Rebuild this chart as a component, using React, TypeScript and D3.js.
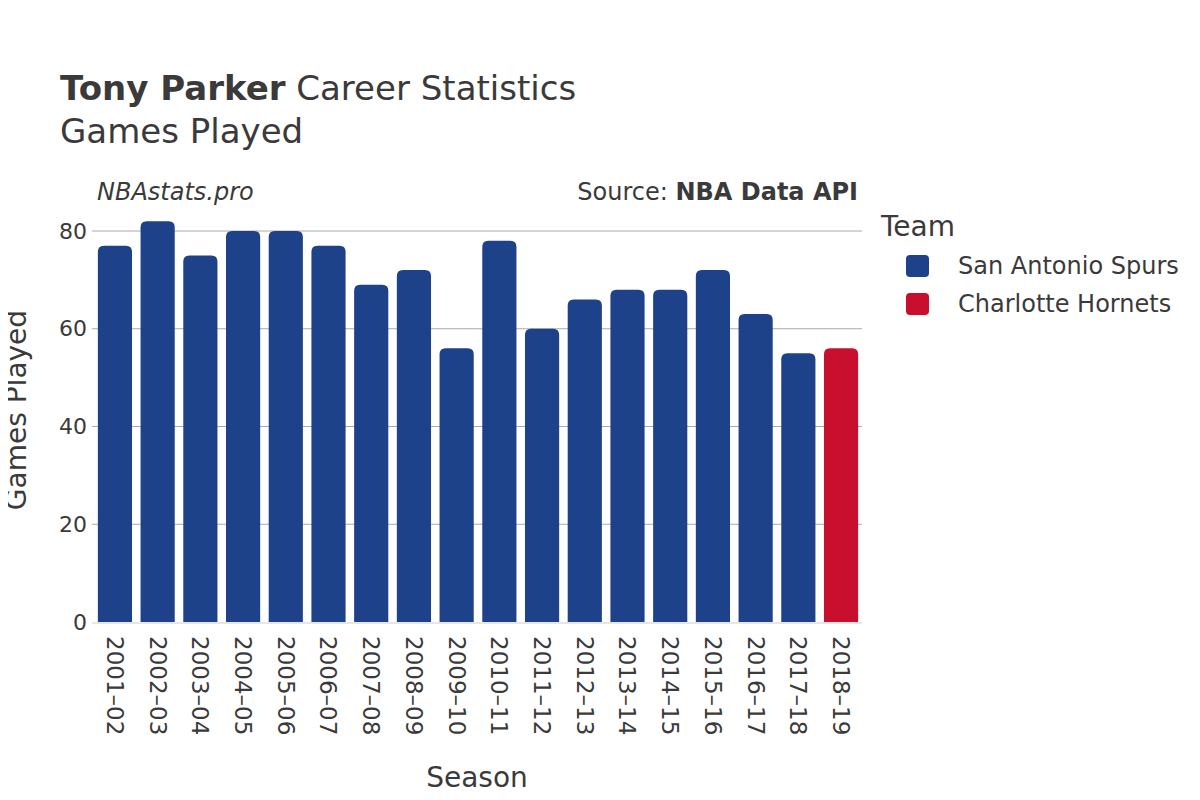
import { useEffect, useRef } from 'react';
import * as d3 from 'd3';

const seasons = [
    '2001–02', '2002–03', '2003–04', '2004–05', '2005–06', '2006–07', '2007–08', '2008–09', '2009–10',
    '2010–11', '2011–12', '2012–13', '2013–14', '2014–15', '2015–16', '2016–17', '2017–18', '2018–19',
];
const gamesPlayed = [77, 82, 75, 80, 80, 77, 69, 72, 56, 78, 60, 66, 68, 68, 72, 63, 55, 56];
const teams = [
    'San Antonio Spurs', 'San Antonio Spurs', 'San Antonio Spurs', 'San Antonio Spurs', 'San Antonio Spurs',
    'San Antonio Spurs', 'San Antonio Spurs', 'San Antonio Spurs', 'San Antonio Spurs', 'San Antonio Spurs',
    'San Antonio Spurs', 'San Antonio Spurs', 'San Antonio Spurs', 'San Antonio Spurs', 'San Antonio Spurs',
    'San Antonio Spurs', 'San Antonio Spurs', 'Charlotte Hornets',
];
const legendTeams = ['San Antonio Spurs', 'Charlotte Hornets'];
const teamColors = ['#1d428a', '#c8102e'];
const yTicks = [0, 20, 40, 60, 80];

const FONT = '"DejaVu Sans", sans-serif';
const TEXT = '#3a3a3a';

function roundedTopBar(x: number, y: number, w: number, h: number, r: number) {
    const rr = Math.min(r, h / 2, w / 2);
    return `M${x},${y + h}V${y + rr}Q${x},${y} ${x + rr},${y}H${x + w - rr}Q${x + w},${y} ${x + w},${y + rr}V${y + h}Z`;
}

export default function App() {
    const ref = useRef<SVGSVGElement>(null);

    useEffect(() => {
        if (!ref.current) return;
        const svg = d3.select(ref.current);
        svg.selectAll('*').remove();

        const left = 97, right = 859, bottom = 622;

        const x = d3.scaleBand<string>()
            .domain(seasons)
            .range([left, right])
            .paddingInner(0.2)
            .paddingOuter(0.02);

        const y = d3.scaleLinear()
            .domain([0, 80])
            .range([bottom, 231]);

        const color = d3.scaleOrdinal<string, string>().domain(legendTeams).range(teamColors);

        // Title
        const title = svg.append('text')
            .attr('x', 60).attr('y', 100)
            .attr('font-family', FONT).attr('font-size', 34).attr('fill', TEXT);
        title.append('tspan').attr('font-weight', 'bold').text('Tony Parker');
        title.append('tspan').text(' Career Statistics');

        svg.append('text')
            .attr('x', 60).attr('y', 143)
            .attr('font-family', FONT).attr('font-size', 34).attr('fill', TEXT)
            .text('Games Played');

        svg.append('text')
            .attr('x', 97).attr('y', 200)
            .attr('font-family', FONT).attr('font-size', 24).attr('font-style', 'italic').attr('fill', TEXT)
            .text('NBAstats.pro');

        const src = svg.append('text')
            .attr('x', 858).attr('y', 200)
            .attr('text-anchor', 'end')
            .attr('font-family', FONT).attr('font-size', 24).attr('fill', TEXT);
        src.append('tspan').text('Source: ');
        src.append('tspan').attr('font-weight', 'bold').text('NBA Data API');

        // Grid lines
        svg.append('g')
            .selectAll('line')
            .data(yTicks.filter(d => d > 0))
            .enter()
            .append('line')
            .attr('x1', 92).attr('x2', 862)
            .attr('y1', d => y(d)).attr('y2', d => y(d))
            .attr('stroke', '#aaaaaa')
            .attr('stroke-width', 1);

        // Zero line
        svg.append('line')
            .attr('x1', 92).attr('x2', 862)
            .attr('y1', y(0) + 1).attr('y2', y(0) + 1)
            .attr('stroke', '#e6e6e6')
            .attr('stroke-width', 2);

        // Y tick labels
        svg.append('g')
            .selectAll('text')
            .data(yTicks)
            .enter()
            .append('text')
            .attr('x', 87)
            .attr('y', d => y(d))
            .attr('dy', '0.35em')
            .attr('text-anchor', 'end')
            .attr('font-family', FONT).attr('font-size', 22).attr('fill', TEXT)
            .text(d => d);

        // Bars
        svg.append('g')
            .selectAll('path')
            .data(seasons)
            .enter()
            .append('path')
            .attr('d', (s, i) => {
                const x0 = x(s) ?? 0;
                const y0 = y(gamesPlayed[i]);
                return roundedTopBar(x0, y0, x.bandwidth(), bottom - y0, 6);
            })
            .attr('fill', (_, i) => color(teams[i]));

        // X tick labels (rotated)
        svg.append('g')
            .selectAll('text')
            .data(seasons)
            .enter()
            .append('text')
            .attr('transform', s => `translate(${(x(s) ?? 0) + x.bandwidth() / 2},636) rotate(90)`)
            .attr('dy', '0.35em')
            .attr('text-anchor', 'start')
            .attr('font-family', FONT).attr('font-size', 23).attr('fill', TEXT)
            .text(s => s);

        // Axis titles
        svg.append('text')
            .attr('x', 477).attr('y', 787)
            .attr('text-anchor', 'middle')
            .attr('font-family', FONT).attr('font-size', 28).attr('fill', TEXT)
            .text('Season');

        svg.append('text')
            .attr('transform', 'translate(26,410) rotate(-90)')
            .attr('text-anchor', 'middle')
            .attr('font-family', FONT).attr('font-size', 28).attr('fill', TEXT)
            .text('Games Played');

        // Legend
        svg.append('text')
            .attr('x', 881).attr('y', 236)
            .attr('font-family', FONT).attr('font-size', 28).attr('fill', TEXT)
            .text('Team');

        const legend = svg.append('g')
            .selectAll('g')
            .data(legendTeams)
            .enter()
            .append('g')
            .attr('transform', (_, i) => `translate(0,${266 + i * 38})`);

        legend.append('rect')
            .attr('x', 906).attr('y', -11)
            .attr('width', 23).attr('height', 22)
            .attr('rx', 4)
            .attr('fill', d => color(d));

        legend.append('text')
            .attr('x', 958).attr('y', 0)
            .attr('dy', '0.35em')
            .attr('font-family', FONT).attr('font-size', 24).attr('fill', TEXT)
            .text(d => d);
    }, []);

    return <svg ref={ref} width={1200} height={800} style={{ display: 'block', margin: -8 }} />;
}
